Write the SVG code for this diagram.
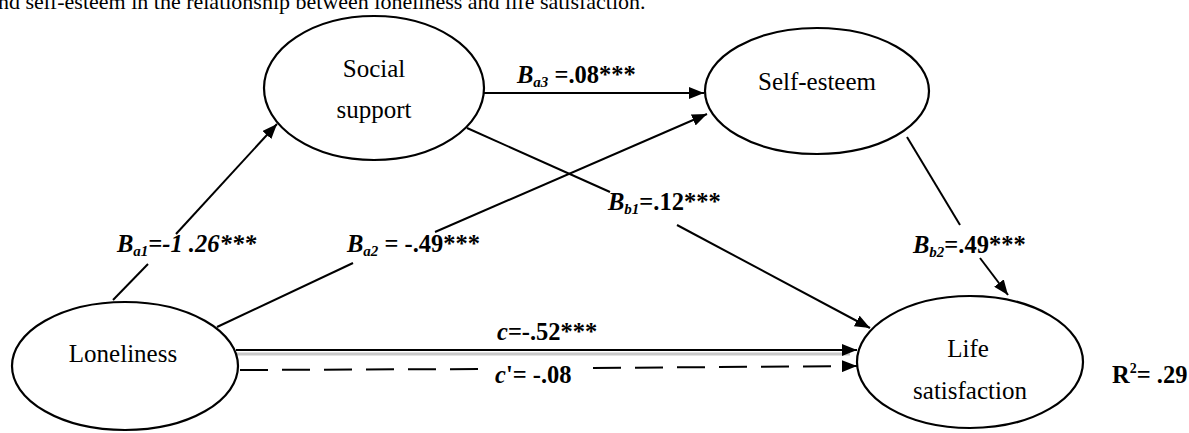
<svg xmlns="http://www.w3.org/2000/svg" width="1189" height="433" viewBox="0 0 1189 433">
<defs>
<marker id="arr" markerUnits="userSpaceOnUse" markerWidth="16" markerHeight="12" refX="15" refY="6" orient="auto">
<path d="M0,0 L15,6 L0,12 Z" fill="#000"/>
</marker>
<style>
.node ellipse{fill:#fff;stroke:#000;stroke-width:2.2}
.nt{font-family:"Liberation Serif","Times New Roman",serif;font-size:25px;fill:#000;text-anchor:middle}
.lb{font-family:"Liberation Serif","Times New Roman",serif;font-size:24.5px;font-weight:bold;font-style:italic;fill:#000}
.sub{font-size:15px}
.up{font-style:normal}
.ln{stroke:#000;stroke-width:2;fill:none}
.la{stroke:#000;stroke-width:2;fill:none;marker-end:url(#arr)}
.cap{font-family:"Liberation Serif","Times New Roman",serif;font-size:22px;fill:#000}
</style>
</defs>
<rect width="1189" height="433" fill="#fff"/>
<text class="cap" x="-2" y="9">nd self-esteem in the relationship between loneliness and life satisfaction.</text>

<g id="connectors">
<line class="ln" x1="113" y1="300" x2="148" y2="264"/>
<line class="la" x1="176" y1="234" x2="277" y2="124"/>
<line class="ln" x1="217" y1="327" x2="353" y2="263"/>
<line class="la" x1="435" y1="232" x2="707" y2="114"/>
<line class="la" x1="484" y1="93" x2="704" y2="93"/>
<line class="ln" x1="467" y1="128" x2="610" y2="192"/>
<line class="la" x1="677" y1="225" x2="870" y2="328"/>
<line class="ln" x1="907" y1="137" x2="960" y2="225"/>
<line class="la" x1="980" y1="258" x2="1008" y2="295"/>
<line x1="236" y1="354" x2="850" y2="354" stroke="#c8c8c8" stroke-width="3"/>
<line class="la" x1="236" y1="350" x2="857" y2="350" stroke-width="2.5"/>
<path class="ln" d="M240,370 L486,369" stroke-width="2.5" stroke-dasharray="28 14"/>
<path class="la" d="M593,368 L857,366" stroke-width="2.5" stroke-dasharray="28 14"/>
</g>

<g id="social-support" class="node">
<ellipse cx="374" cy="88" rx="110" ry="72"/>
<text class="nt" x="374" y="77">Social</text>
<text class="nt" x="374" y="118">support</text>
</g>
<g id="self-esteem" class="node">
<ellipse cx="817" cy="91" rx="112" ry="63"/>
<text class="nt" x="817" y="90">Self-esteem</text>
</g>
<g id="loneliness" class="node">
<ellipse cx="125" cy="366" rx="113" ry="64"/>
<text class="nt" x="123" y="362">Loneliness</text>
</g>
<g id="life-satisfaction" class="node">
<ellipse cx="970" cy="362" rx="113" ry="66"/>
<text class="nt" x="968" y="357">Life</text>
<text class="nt" x="970" y="399">satisfaction</text>
</g>

<g id="labels">
<text class="lb" x="117" y="252">B<tspan class="sub" dy="4">a1</tspan><tspan dy="-4">=-1 .26***</tspan></text>
<text class="lb" x="347" y="252">B<tspan class="sub" dy="4">a2</tspan><tspan dy="-4" class="up"> = -.49***</tspan></text>
<text class="lb" x="517" y="83">B<tspan class="sub" dy="4">a3</tspan><tspan dy="-4" class="up"> =.08***</tspan></text>
<text class="lb" x="608" y="210">B<tspan class="sub" dy="4">b1</tspan><tspan dy="-4" class="up">=.12***</tspan></text>
<text class="lb" x="913" y="253">B<tspan class="sub" dy="4">b2</tspan><tspan dy="-4" class="up">=.49***</tspan></text>
<text class="lb" x="497" y="340">c<tspan class="up">=-.52***</tspan></text>
<text class="lb" x="495" y="383">c<tspan class="up">'= -.08</tspan></text>
<text class="lb up" x="1112" y="383">R<tspan font-size="14" dy="-10">2</tspan><tspan dy="10">= .29</tspan></text>
</g>
</svg>
